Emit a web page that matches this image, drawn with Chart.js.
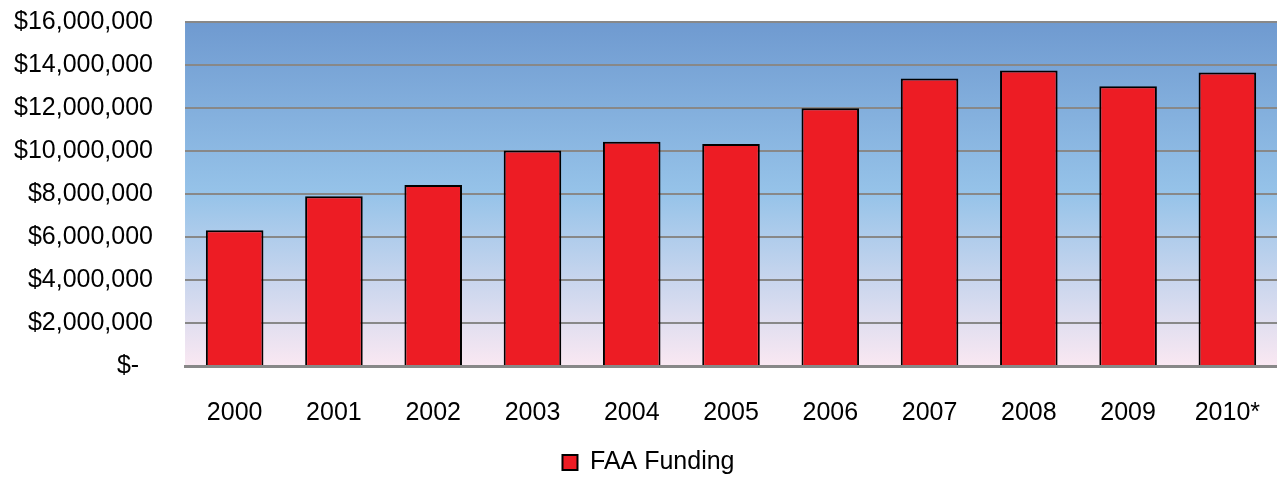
<!DOCTYPE html>
<html>
<head>
<meta charset="utf-8">
<script src="https://cdn.jsdelivr.net/npm/chart.js@4/dist/chart.umd.min.js"></script>
<style>
  html, body { margin: 0; padding: 0; background: #fff; }
  #wrap { width: 1277px; height: 478px; }
</style>
</head>
<body>
<div id="wrap"><canvas id="fundingChart"></canvas></div>
<script>
const years = ['2000', '2001', '2002', '2003', '2004', '2005', '2006', '2007', '2008', '2009', '2010*']
const faaFunding = [6310000, 7900000, 8420000, 10020000, 10430000, 10330000, 11990000, 13370000, 13750000, 13010000, 13650000]
const yTicks = [0, 2000000, 4000000, 6000000, 8000000, 10000000, 12000000, 14000000, 16000000]

const money = (v) => v === 0 ? '$-  ' : '$' + v.toLocaleString('en-US')

// blue-to-pink wash behind the bars
const plotBackground = {
  id: 'plotBackground',
  beforeDraw(chart) {
    const { ctx, chartArea: a } = chart
    const g = ctx.createLinearGradient(0, a.top, 0, a.bottom)
    g.addColorStop(0, 'rgb(111,154,208)')
    g.addColorStop(0.5, 'rgb(150,195,233)')
    g.addColorStop(1, 'rgb(250,232,242)')
    ctx.save()
    ctx.fillStyle = g
    ctx.fillRect(a.left, a.top, a.right - a.left, a.bottom - a.top)
    ctx.restore()
  },
}

// nudge the legend a little right of the canvas centre
const legendShift = {
  id: 'legendShift',
  afterLayout(chart) {
    const lg = chart.legend
    if (!lg) return
    lg.left += 19
    lg.right += 19
  },
}

Chart.defaults.font.family = '"Liberation Sans", Arial, sans-serif'
Chart.defaults.color = '#000'

new Chart(document.getElementById('fundingChart'), {
  type: 'bar',
  data: {
    labels: years,
    datasets: [
      {
        label: 'FAA Funding',
        data: faaFunding,
        backgroundColor: '#ed1c24',
        borderColor: '#000',
        borderWidth: 2,
        categoryPercentage: 1,
        barPercentage: 0.58,
      },
    ],
  },
  options: {
    responsive: true,
    maintainAspectRatio: false,
    animation: false,
    layout: { padding: { top: 22, right: 0, left: -18, bottom: -7 } },
    plugins: {
      legend: {
        position: 'bottom',
        labels: {
          font: { size: 25 },
          boxWidth: 15,
          boxHeight: 15,
          padding: 7,
        },
      },
      tooltip: { enabled: false },
    },
    scales: {
      y: {
        min: 0,
        max: 16000000,
        afterBuildTicks(axis) {
          axis.ticks = yTicks.map((v) => ({ value: v }))
        },
        afterFit(axis) {
          axis.paddingTop = 0
        },
        ticks: {
          font: { size: 25 },
          padding: 32,
          callback: (v) => money(v),
        },
        grid: { color: '#888', lineWidth: 2, drawTicks: false },
        border: { display: false },
      },
      x: {
        afterFit(axis) {
          axis.height -= 17
          axis.paddingRight = 0
        },
        ticks: { font: { size: 25 }, padding: 32 },
        grid: { display: false, drawTicks: false },
        border: { color: '#888', width: 3 },
      },
    },
  },
  plugins: [plotBackground, legendShift],
})
</script>
</body>
</html>
